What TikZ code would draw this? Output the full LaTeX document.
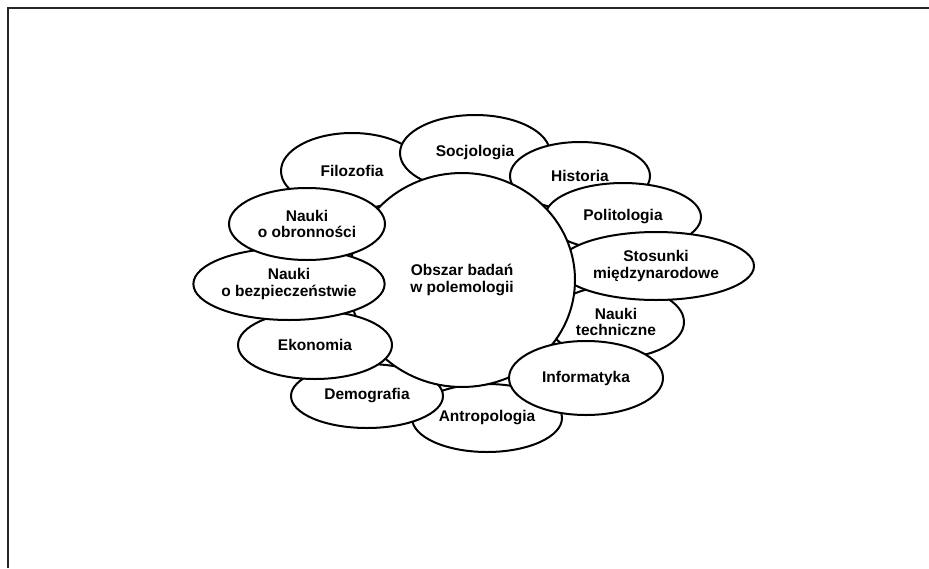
\documentclass[tikz,border=0pt]{standalone}
\usepackage{fontspec}
\setmainfont{Liberation Sans}
\usetikzlibrary{shapes.geometric}
\tikzset{
	field/.style = {
		ellipse, draw, fill=white, line width=2pt, inner sep=0pt,
		align=center, font=\bfseries\fontsize{15.5}{16.5}\selectfont
	},
	frame/.style = {line width=1.6pt, black!85}
}

\begin{document}
\begin{tikzpicture}[x=1pt, y=-1pt]
	\useasboundingbox (0,0) rectangle (929,568);
	\draw[frame] (8,568) -- (8,8) -- (929,8);
	% fields lying under the centre
	\foreach \name/\x/\y/\rx/\ry/\txt in {
		filozofia/352/171/71/38/Filozofia,
		socjologia/475/153/75/38/Socjologia,
		historia/580/176/70/34/Historia,
		politologia/623/217/78/34/Politologia,
		techniczne/616/322/68/36/{Nauki\\techniczne},
		stosunki/656/266/98/34/{Stosunki\\międzynarodowe},
		antropologia/487/418/75/34/Antropologia,
		demografia/367/396/76/32/Demografia}
	{
		\node[field, minimum width=2*\rx, minimum height=2*\ry] (\name) at (\x,\y) {\txt};
	}
	\node[field, minimum width=226, minimum height=214] (obszar) at (462,280)
		{Obszar badań\\w polemologii};
	% fields lying over the centre
	\foreach \name/\x/\y/\rx/\ry/\txt in {
		informatyka/586/378/77/37/Informatyka,
		ekonomia/315/345/77/34/Ekonomia,
		bezpieczenstwo/289/284/94/36/{Nauki\\o bezpieczeństwie},
		obronnosc/307/224/78/36/{Nauki\\o obronności}}
	{
		\node[field, minimum width=2*\rx, minimum height=2*\ry] (\name) at (\x,\y) {\txt};
	}
\end{tikzpicture}
\end{document}
